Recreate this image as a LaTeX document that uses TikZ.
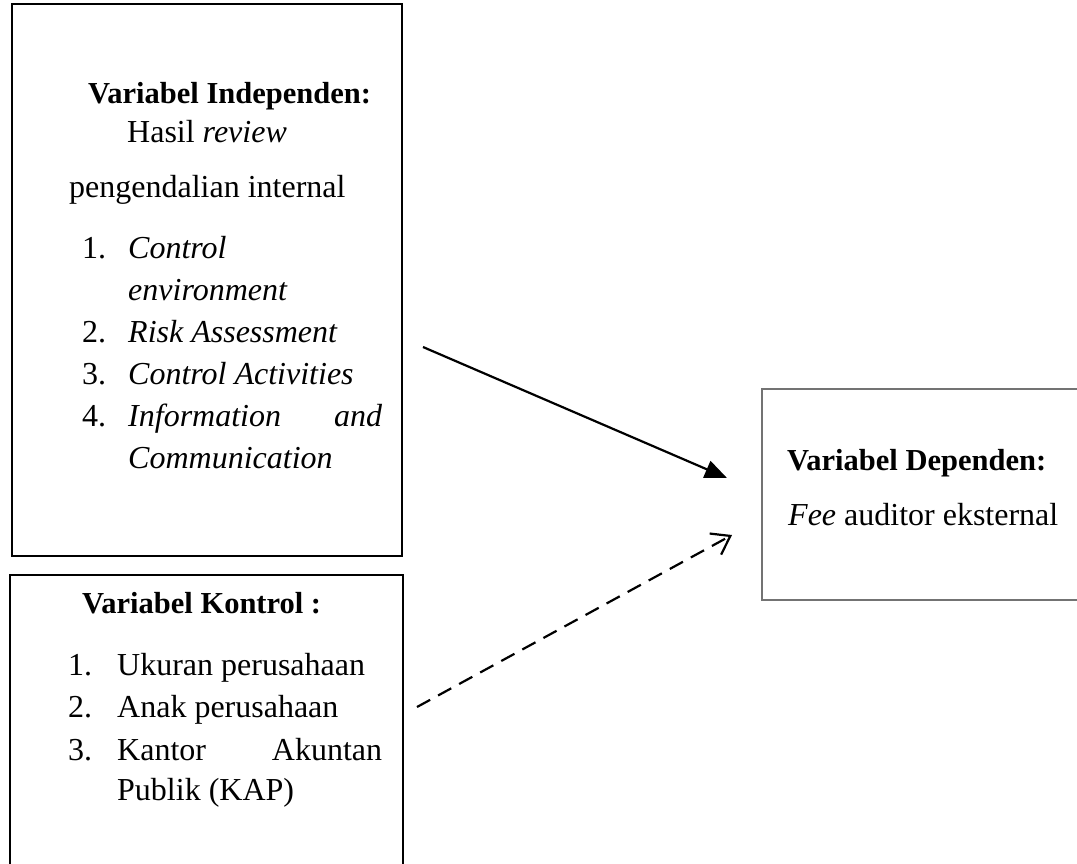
\documentclass[tikz,border=0pt]{standalone}
\usepackage{fontspec}
\setmainfont{Liberation Serif}
\usetikzlibrary{arrows.meta}
\begin{document}
\begin{tikzpicture}[x=1pt,y=-1pt,
  boxblack/.style={draw=black,line width=2.6pt,inner sep=0pt,outer sep=0pt,anchor=north west},
  boxgray/.style={draw=black!55,line width=1.3pt,inner sep=0pt,outer sep=0pt,anchor=north west},
  txt/.style={anchor=base west,inner sep=0pt,font=\fontsize{32}{38}\selectfont},
  head/.style={anchor=base west,inner sep=0pt,font=\fontsize{30.5}{37}\selectfont\bfseries},
  link/.style={line width=2.2pt},
]
\useasboundingbox (0,0) rectangle (1077,863);
\clip (0,0) rectangle (1077,863);
% boxes
\node[boxblack,minimum width=390pt,minimum height=552pt] (indep) at (12,4) {};
\node[boxblack,minimum width=393pt,minimum height=291pt] (kontrol) at (10,575) {};
\node[boxgray,minimum width=340pt,minimum height=211pt] (dep) at (762,389) {};
% independent texts
\node[head] (ih) at (88,103) {Variabel Independen:};
\node[txt] (i1) at (127,142) {Hasil \textit{review}};
\node[txt] (i2) at (69,197) {pengendalian internal};
\node[txt] (n1) at (82,258) {1.};
\node[txt] (t1) at (128,258) {\textit{Control}};
\node[txt] (t1b) at (128,300) {\textit{environment}};
\node[txt] (n2) at (82,342) {2.};
\node[txt] (t2) at (128,342) {\textit{Risk Assessment}};
\node[txt] (n3) at (82,384) {3.};
\node[txt] (t3) at (128,384) {\textit{Control Activities}};
\node[txt] (n4) at (82,426) {4.};
\node[txt] (t4) at (128,426) {\makebox[254pt][s]{\textit{Information} \textit{and}}};
\node[txt] (t4b) at (128,468) {\textit{Communication}};
% control texts
\node[head] (kh) at (82,613) {Variabel Kontrol :};
\node[txt] (m1) at (68,675) {1.};
\node[txt] (k1) at (117,675) {Ukuran perusahaan};
\node[txt] (m2) at (68,717) {2.};
\node[txt] (k2) at (117,717) {Anak perusahaan};
\node[txt] (m3) at (68,760) {3.};
\node[txt] (k3) at (117,760) {\makebox[265pt][s]{Kantor Akuntan}};
\node[txt] (k3b) at (117,800) {Publik (KAP)};
% dependent texts
\node[head] (dh) at (787,470) {Variabel Dependen:};
\node[txt] (d1) at (788,525) {\textit{Fee} auditor eksternal};
% connectors
\coordinate (s1) at (423,347);
\coordinate (e1) at (727,478);
\coordinate (s2) at (417,707);
\coordinate (e2) at (732,535);
\draw[link,-{Triangle[length=22pt,width=18pt]}] (s1) -- (e1);
\draw[link,dash pattern=on 15pt off 9pt,-{Straight Barb[length=17pt,width=24pt,line width=2.2pt]}] (s2) -- (e2);
\end{tikzpicture}
\end{document}
